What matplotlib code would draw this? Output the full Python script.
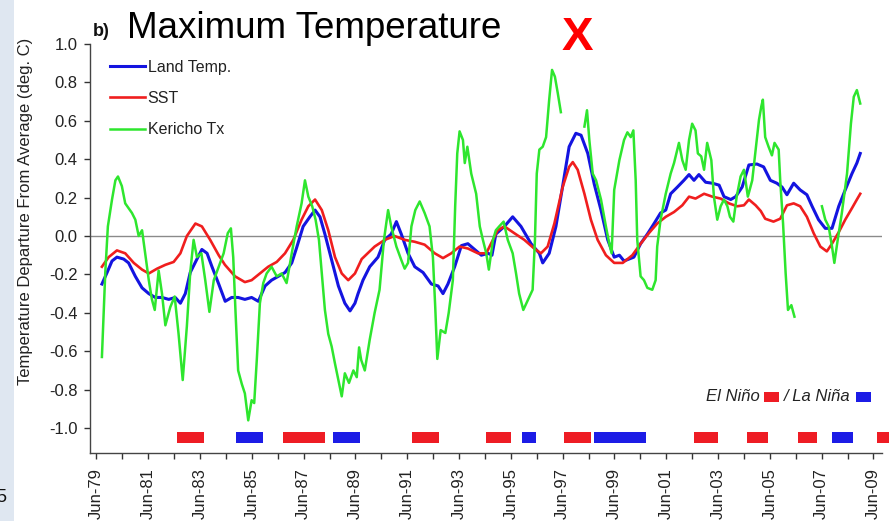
import numpy as np
import matplotlib
matplotlib.use("Agg")
import matplotlib.pyplot as plt
from matplotlib.patches import Rectangle

plt.rcParams['font.family'] = ['Liberation Sans', 'DejaVu Sans']
plt.rcParams['axes.unicode_minus'] = False

# ---------------- data (decimal years, deg C departures) ----------------
land_year = [1979.63, 1979.83, 1980.02, 1980.21, 1980.47, 1980.66, 1980.92, 1981.18, 1981.44, 1981.69,
             1981.95, 1982.21, 1982.46, 1982.66, 1982.85, 1983.04, 1983.30, 1983.49, 1983.69, 1983.88,
             1984.14, 1984.39, 1984.64, 1984.89, 1985.15, 1985.41, 1985.67, 1985.93, 1986.18, 1986.44,
             1986.70, 1986.96, 1987.15, 1987.40, 1987.66, 1987.86, 1988.05, 1988.24, 1988.50, 1988.76,
             1989.01, 1989.21, 1989.40, 1989.52, 1989.71, 1989.97, 1990.29, 1990.55, 1990.80, 1991.00,
             1991.19, 1991.45, 1991.71, 1992.03, 1992.35, 1992.61, 1992.80, 1992.99, 1993.25, 1993.51,
             1993.76, 1994.02, 1994.28, 1994.54, 1994.69, 1994.84, 1995.17, 1995.49, 1995.81, 1996.20,
             1996.52, 1996.65, 1996.90, 1997.16, 1997.42, 1997.67, 1997.93, 1998.13, 1998.39, 1998.64,
             1998.90, 1999.16, 1999.41, 1999.61, 1999.79, 2000.17, 2000.43, 2000.69, 2000.95, 2001.20,
             2001.40, 2001.59, 2001.85, 2002.10, 2002.30, 2002.49, 2002.68, 2002.94, 2003.20, 2003.46,
             2003.65, 2003.91, 2004.10, 2004.35, 2004.61, 2004.92, 2005.18, 2005.44, 2005.69, 2005.89,
             2006.08, 2006.34, 2006.59, 2006.85, 2007.05, 2007.30, 2007.56, 2007.82, 2008.08, 2008.33,
             2008.59, 2008.78, 2008.91]
land_dev = [-0.25, -0.19, -0.13, -0.11, -0.12, -0.14, -0.21, -0.27, -0.30, -0.32,
            -0.32, -0.33, -0.32, -0.35, -0.30, -0.19, -0.12, -0.07, -0.09, -0.16,
            -0.25, -0.34, -0.32, -0.32, -0.33, -0.32, -0.34, -0.26, -0.23, -0.21,
            -0.19, -0.14, -0.06, 0.05, 0.10, 0.135, 0.10, 0.01, -0.125, -0.26,
            -0.35, -0.39, -0.35, -0.30, -0.23, -0.16, -0.11, -0.02, 0.01, 0.075,
            0.01, -0.09, -0.16, -0.19, -0.25, -0.26, -0.30, -0.25, -0.16, -0.05,
            -0.04, -0.07, -0.10, -0.09, -0.10, 0.01, 0.05, 0.10, 0.05, -0.04,
            -0.09, -0.14, -0.09, 0.05, 0.26, 0.465, 0.535, 0.525, 0.43, 0.27,
            0.135, -0.02, -0.11, -0.10, -0.13, -0.11, -0.04, 0.01, 0.065, 0.12,
            0.135, 0.22, 0.255, 0.29, 0.32, 0.29, 0.32, 0.28, 0.275, 0.265,
            0.205, 0.19, 0.205, 0.255, 0.37, 0.375, 0.36, 0.29, 0.275, 0.255,
            0.215, 0.275, 0.24, 0.215, 0.155, 0.085, 0.04, 0.04, 0.155, 0.24,
            0.325, 0.38, 0.43]

sst_year = [1979.63, 1979.89, 1980.21, 1980.53, 1980.86, 1981.18, 1981.44, 1981.76, 1982.08, 1982.40,
            1982.66, 1982.91, 1983.24, 1983.49, 1983.81, 1984.14, 1984.38, 1984.77, 1985.15, 1985.41,
            1985.73, 1986.05, 1986.38, 1986.70, 1987.02, 1987.34, 1987.60, 1987.86, 1988.12, 1988.37,
            1988.63, 1988.89, 1989.14, 1989.40, 1989.66, 1990.16, 1990.55, 1990.93, 1991.32, 1991.71,
            1992.09, 1992.48, 1992.80, 1993.12, 1993.44, 1993.76, 1994.15, 1994.47, 1994.69, 1994.91,
            1995.17, 1995.55, 1995.94, 1996.32, 1996.58, 1996.84, 1997.10, 1997.42, 1997.67, 1997.81,
            1998.00, 1998.26, 1998.51, 1998.77, 1999.09, 1999.41, 1999.74, 2000.11, 2000.43, 2000.75,
            2001.07, 2001.40, 2001.72, 2002.04, 2002.30, 2002.55, 2002.88, 2003.20, 2003.52, 2003.84,
            2004.16, 2004.42, 2004.61, 2004.87, 2005.07, 2005.24, 2005.56, 2005.82, 2006.08, 2006.34,
            2006.59, 2006.85, 2007.11, 2007.37, 2007.62, 2007.82, 2008.08, 2008.33, 2008.59, 2008.78,
            2008.91]
sst_dev = [-0.16, -0.11, -0.075, -0.09, -0.14, -0.175, -0.195, -0.17, -0.15, -0.135,
           -0.09, 0.00, 0.065, 0.05, -0.02, -0.10, -0.15, -0.21, -0.24, -0.23,
           -0.195, -0.16, -0.135, -0.09, -0.02, 0.085, 0.155, 0.19, 0.135, 0.03,
           -0.11, -0.195, -0.23, -0.195, -0.12, -0.055, -0.02, 0.00, -0.02, -0.03,
           -0.045, -0.09, -0.115, -0.09, -0.055, -0.065, -0.09, -0.09, -0.03, 0.03,
           0.05, 0.015, -0.02, -0.065, -0.09, -0.055, 0.065, 0.255, 0.36, 0.385,
           0.345, 0.22, 0.085, -0.02, -0.10, -0.14, -0.14, -0.10, -0.04, 0.015,
           0.065, 0.10, 0.125, 0.16, 0.205, 0.195, 0.22, 0.205, 0.195, 0.17,
           0.155, 0.16, 0.19, 0.16, 0.13, 0.09, 0.075, 0.09, 0.16, 0.17,
           0.155, 0.10, 0.015, -0.055, -0.08, -0.04, 0.02, 0.085, 0.145, 0.19,
           0.22]

kericho_year = [1979.63, 1979.76, 1979.86, 1980.02, 1980.15, 1980.25, 1980.40, 1980.53, 1980.66, 1980.79,
                1980.92, 1981.05, 1981.18, 1981.30, 1981.44, 1981.56, 1981.67, 1981.82, 1981.95, 1982.08,
                1982.27, 1982.44, 1982.59, 1982.75, 1982.91, 1983.04, 1983.17, 1983.30, 1983.47, 1983.62,
                1983.78, 1983.95, 1984.14, 1984.33, 1984.49, 1984.61, 1984.70, 1984.79, 1984.89, 1985.03,
                1985.15, 1985.28, 1985.41, 1985.51, 1985.61, 1985.73, 1985.86, 1985.99, 1986.18, 1986.38,
                1986.57, 1986.76, 1986.96, 1987.15, 1987.34, 1987.47, 1987.60, 1987.75, 1987.88, 1988.01,
                1988.14, 1988.24, 1988.37, 1988.50, 1988.63, 1988.76, 1988.89, 1989.01, 1989.17, 1989.34,
                1989.47, 1989.56, 1989.64, 1989.78, 1989.97, 1990.16, 1990.35, 1990.52, 1990.68, 1990.80,
                1991.00, 1991.19, 1991.32, 1991.45, 1991.58, 1991.73, 1991.90, 1992.09, 1992.28, 1992.41,
                1992.50, 1992.58, 1992.71, 1992.89, 1993.02, 1993.18, 1993.27, 1993.35, 1993.44, 1993.57,
                1993.64, 1993.74, 1993.89, 1994.08, 1994.22, 1994.34, 1994.47, 1994.57, 1994.73, 1994.84,
                1994.97, 1995.14, 1995.30, 1995.49, 1995.62, 1995.74, 1995.90, 1996.07, 1996.26, 1996.35,
                1996.42, 1996.52, 1996.65, 1996.78, 1996.90, 1997.01, 1997.12, 1997.23, 1997.35, 1997.80,
                1998.26, 1998.36, 1998.45, 1998.58, 1998.71, 1998.90, 1999.09, 1999.22, 1999.31, 1999.41,
                1999.61, 1999.79, 1999.92, 2000.05, 2000.15, 2000.24, 2000.30, 2000.43, 2000.56, 2000.69,
                2000.88, 2001.01, 2001.07, 2001.20, 2001.40, 2001.59, 2001.72, 2001.91, 2002.04, 2002.17,
                2002.30, 2002.42, 2002.55, 2002.64, 2002.77, 2002.88, 2003.00, 2003.16, 2003.26, 2003.39,
                2003.52, 2003.65, 2003.78, 2003.88, 2004.01, 2004.14, 2004.29, 2004.42, 2004.57, 2004.74,
                2004.87, 2005.00, 2005.09, 2005.15, 2005.24, 2005.37, 2005.50, 2005.60, 2005.76, 2005.82,
                2005.93, 2006.03, 2006.12, 2006.25, 2006.37, 2006.90, 2007.43, 2007.56, 2007.69, 2007.82,
                2007.91, 2008.04, 2008.20, 2008.40, 2008.55, 2008.66, 2008.78, 2008.91]
kericho_tx = [-0.63, -0.19, 0.05, 0.19, 0.29, 0.31, 0.26, 0.17, 0.145, 0.12,
              0.085, 0.00, 0.03, -0.09, -0.23, -0.33, -0.385, -0.18, -0.30, -0.465,
              -0.37, -0.315, -0.51, -0.75, -0.47, -0.19, -0.02, -0.11, -0.09, -0.23,
              -0.395, -0.23, -0.16, -0.09, 0.015, 0.04, -0.11, -0.40, -0.70, -0.77,
              -0.82, -0.96, -0.855, -0.87, -0.645, -0.35, -0.245, -0.195, -0.16, -0.21,
              -0.195, -0.245, -0.09, 0.05, 0.17, 0.29, 0.205, 0.155, 0.085, -0.02,
              -0.23, -0.385, -0.51, -0.575, -0.665, -0.75, -0.835, -0.715, -0.765, -0.70,
              -0.735, -0.58, -0.645, -0.70, -0.54, -0.40, -0.28, -0.02, 0.135, 0.05,
              -0.055, -0.125, -0.17, -0.14, 0.05, 0.135, 0.18, 0.12, 0.05, -0.11,
              -0.37, -0.64, -0.49, -0.505, -0.40, -0.23, 0.155, 0.43, 0.545, 0.50,
              0.38, 0.465, 0.325, 0.22, 0.05, -0.02, -0.09, -0.175, -0.02, 0.03,
              0.05, 0.075, -0.02, -0.09, -0.195, -0.30, -0.385, -0.335, -0.28, -0.02,
              0.325, 0.45, 0.465, 0.515, 0.71, 0.865, 0.83, 0.745, 0.645, np.nan,
              0.57, 0.655, 0.50, 0.325, 0.29, 0.19, 0.05, -0.04, -0.09, 0.24,
              0.395, 0.50, 0.54, 0.515, 0.55, 0.29, -0.02, -0.21, -0.23, -0.27,
              -0.28, -0.23, -0.055, 0.085, 0.22, 0.325, 0.38, 0.485, 0.395, 0.345,
              0.50, 0.585, 0.55, 0.43, 0.415, 0.345, 0.485, 0.395, 0.205, 0.085,
              0.155, 0.19, 0.155, 0.10, 0.075, 0.205, 0.31, 0.345, 0.205, 0.29,
              0.45, 0.605, 0.675, 0.71, 0.515, 0.465, 0.42, 0.485, 0.45, 0.29,
              0.065, -0.195, -0.385, -0.36, -0.42, np.nan, 0.155, 0.085, 0.05, -0.055,
              -0.14, -0.02, 0.12, 0.325, 0.585, 0.725, 0.76, 0.69]

# ENSO events (start, end in decimal years)
enso_start = [1982.52, 1984.79, 1986.63, 1988.54, 1991.59, 1994.46, 1995.84,
              1997.48, 1998.63, 2002.49, 2004.52, 2006.52, 2007.81, 2009.54]
enso_end = [1983.57, 1985.86, 1988.24, 1989.59, 1992.64, 1995.42, 1996.39,
            1998.51, 2000.64, 2003.40, 2005.33, 2007.23, 2008.62, 2010.03]
enso_phase = ['El', 'La', 'El', 'La', 'El', 'El', 'La',
              'El', 'La', 'El', 'El', 'El', 'La', 'El']

tick_years = list(range(1979, 2010))
y_ticks = [-1.0, -0.8, -0.6, -0.4, -0.2, 0.0, 0.2, 0.4, 0.6, 0.8, 1.0]
y_ticklabels = ['-1.0', '-0.8', '-0.6', '-0.4', '-0.2', '0.0', '0.2', '0.4', '0.6', '0.8', '1.0']
series_labels = ['Land Temp.', 'SST', 'Kericho Tx']

# ---------------- styling ----------------
C_LAND = '#1414e0'
C_SST = '#f01e1e'
C_KER = '#2ee62e'
C_ELN = '#ee1c24'
C_LAN = '#1c1ce6'
TXT = '#222222'

fig = plt.figure(figsize=(8.94, 5.21), dpi=100)
fig.patch.set_facecolor('white')

# slide edge strip on the left
fig.patches.append(Rectangle((0, 0), 14 / 894, 1, transform=fig.transFigure,
                             facecolor='#dfe7f1', edgecolor='none', zorder=0))
fig.text(0.002, 1 - 497 / 521, '5', fontsize=13, ha='center', va='center', color='#111111')

ax = fig.add_axes([90 / 894, 1 - 453 / 521, 792 / 894, 409 / 521])

ax.axhline(0, color='#8a8a8a', lw=1.0, zorder=1)

ax.plot(land_year, land_dev, color=C_LAND, lw=2.2, zorder=3, label=series_labels[0])
ax.plot(sst_year, sst_dev, color=C_SST, lw=1.9, zorder=3, label=series_labels[1])
ax.plot(kericho_year, kericho_tx, color=C_KER, lw=1.8, zorder=4, label=series_labels[2])

for s, e, p in zip(enso_start, enso_end, enso_phase):
    ax.barh(-1.05, e - s, left=s, height=0.058, color=C_ELN if p == 'El' else C_LAN,
            clip_on=False, zorder=2)

ax.set_xlim(1979.17, 2009.75)
ax.set_ylim(-1.13, 1.0)

ax.set_yticks(y_ticks)
ax.set_yticklabels(y_ticklabels)

major = [y + 0.42 for y in tick_years if y % 2 == 1]
minor = [y + 0.42 for y in tick_years if y % 2 == 0]
ax.set_xticks(major)
ax.set_xticklabels([f"Jun-{y % 100:02d}" for y in tick_years if y % 2 == 1], rotation=90)
ax.set_xticks(minor, minor=True)

ax.tick_params(axis='both', which='both', direction='out', length=4, width=1,
               color='#333333', labelcolor=TXT, labelsize=12)
ax.tick_params(axis='x', which='major', pad=7)
ax.tick_params(axis='y', pad=5)

for side in ['top', 'right']:
    ax.spines[side].set_visible(False)
for side in ['left', 'bottom']:
    ax.spines[side].set_color('#444444')
    ax.spines[side].set_linewidth(1.0)

fig.text(26 / 894, 1 - 211.5 / 521, 'Temperature Departure From Average (deg. C)',
         rotation=90, ha='center', va='center', fontsize=12, color=TXT)

leg = ax.legend(loc='upper left', bbox_to_anchor=(0.0253, 0.962), frameon=False,
                fontsize=11.5, handlelength=2.2, handletextpad=0.15, labelspacing=1.02,
                borderpad=0, borderaxespad=0)
for t in leg.get_texts():
    t.set_color(TXT)

# ENSO key
ky = (453 - 401) / 409
ax.text((706 - 90) / 792, ky, 'El Niño', transform=ax.transAxes,
        fontsize=12, style='italic', ha='left', va='baseline', color=TXT)
ax.add_patch(Rectangle(((764 - 90) / 792, (453 - 402) / 409), 15 / 792, 10.5 / 409,
                       transform=ax.transAxes, facecolor=C_ELN, edgecolor='none', clip_on=False))
ax.text((784 - 90) / 792, ky, '/ La Niña', transform=ax.transAxes,
        fontsize=12, style='italic', ha='left', va='baseline', color=TXT)
ax.add_patch(Rectangle(((856 - 90) / 792, (453 - 402) / 409), 15 / 792, 10.5 / 409,
                       transform=ax.transAxes, facecolor=C_LAN, edgecolor='none', clip_on=False))

# titles
fig.text(93 / 894, 1 - 36 / 521, 'b)', fontsize=13, fontweight='bold', ha='left',
         va='baseline', color='#111111')
fig.text(127.5 / 894, 1 - 38 / 521, 'Maximum Temperature', fontsize=26.5, ha='left',
         va='baseline', color='black')
fig.text(577.5 / 894, 1 - 50 / 521, 'X', fontsize=34, fontweight='bold', ha='center',
         va='baseline', color='#ff0000')

fig.savefig('out.png', dpi=100)
